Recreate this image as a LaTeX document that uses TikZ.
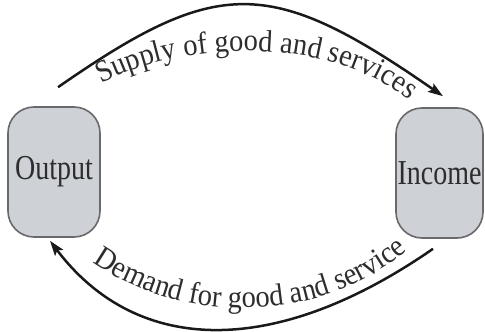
\documentclass[tikz,border=0pt]{standalone}
\usepackage{fontspec}
\usetikzlibrary{arrows.meta,decorations.text,calc}
\newfontfamily\lblfont[FakeStretch=0.8]{Liberation Serif}
\newfontfamily\arcfont[FakeStretch=0.92]{Liberation Serif}
\definecolor{boxfill}{RGB}{206,210,215}
\definecolor{boxline}{RGB}{105,105,108}
\definecolor{txt}{RGB}{45,45,45}
\definecolor{arcline}{RGB}{25,25,25}
\tikzset{
  sectorbox/.style={draw=boxline, line width=1.6pt, fill=boxfill, rounded corners=26pt,
    inner sep=0pt, minimum height=130pt, text=txt, font=\lblfont\fontsize{35}{40}\selectfont},
  flowarc/.style={draw=arcline, line width=2.5pt},
  flowtip/.tip={Stealth[length=15pt,width=10pt,inset=3pt]},
  arclabel/.style={decorate, decoration={text along path, text align=center, text color=txt,
    text={|\arcfont\fontsize{31}{36}\selectfont|#1}}}
}
\begin{document}
\begin{tikzpicture}[x=1pt,y=1pt]
\useasboundingbox (0,0) rectangle (485,-332);
\node[sectorbox, minimum width=92pt] (out) at (54,-172) {Output};
\node[sectorbox, minimum width=87pt] (inc) at (439.5,-173) {Income};
\coordinate (t1) at ($(out.north)+(4,19)$);
\coordinate (t2) at ($(inc.north)+(3.5,11)$);
\coordinate (b1) at ($(out.south)+(-4,-3)$);
\coordinate (b2) at ($(inc.south)+(-6.5,-10)$);
\draw[flowarc, -{flowtip}] (t1) .. controls (218,24) and (270,24) .. (t2);
\draw[flowarc, {flowtip}-] (b1) .. controls (138,-357) and (277,-357) .. (b2);
\coordinate (s1) at (99,-85);
\coordinate (s2) at (411,-102);
\coordinate (d1) at (92,-262);
\coordinate (d2) at (408,-250);
\path[arclabel={Supply of good and services}] (s1) .. controls (188,-37) and (333,-37) .. (s2);
\path[arclabel={Demand for good and service}] (d1) .. controls (182,-325) and (319,-325) .. (d2);
\end{tikzpicture}
\end{document}
